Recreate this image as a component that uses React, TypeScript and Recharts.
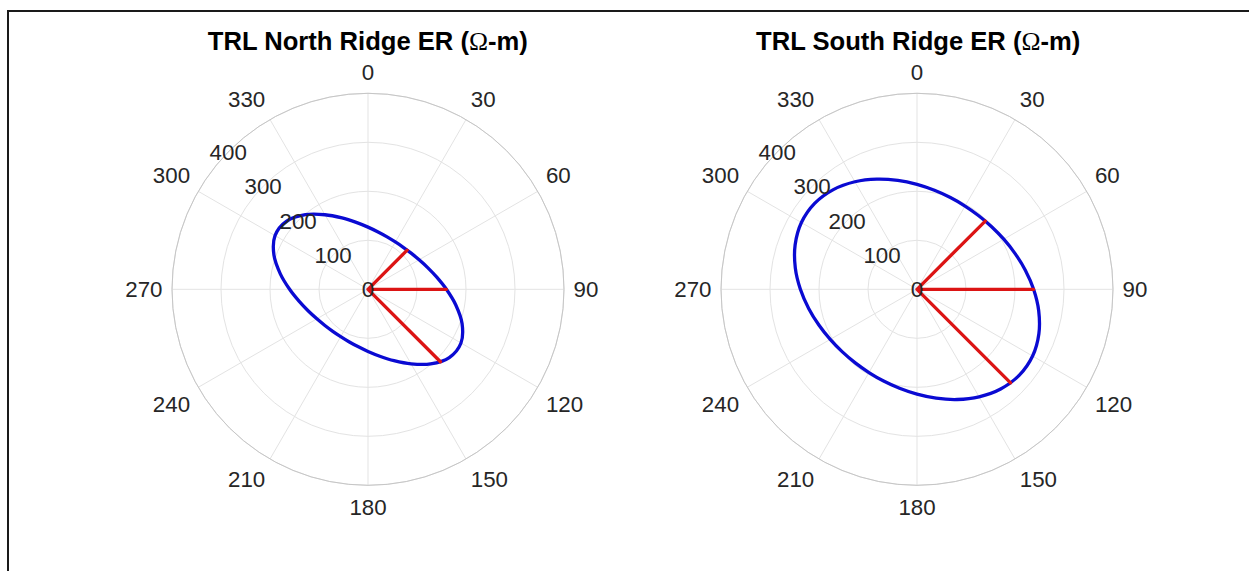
import React from 'react';
import { RadarChart, Radar, PolarGrid, PolarAngleAxis, PolarRadiusAxis } from 'recharts';

// ---- data ----
const thetaTicks = [0, 30, 60, 90, 120, 150, 180, 210, 240, 270, 300, 330];
const rTicks = [0, 100, 200, 300, 400];

// directions of the three measurements (degrees, clockwise from north)
const spokeDirs = [45, 90, 135];
const northER = [113, 160, 209];
const southER = [197, 238, 270];

// resistivity ellipse, radius every 10 degrees (0..350)
const ellipseAngles = [
  0, 10, 20, 30, 40, 50, 60, 70, 80, 90, 100, 110, 120, 130, 140, 150, 160, 170,
  180, 190, 200, 210, 220, 230, 240, 250, 260, 270, 280, 290, 300, 310, 320, 330, 340, 350,
];
const northEllipse = [
  126.9, 118.7, 113.8, 111.5, 111.9, 114.8, 120.5, 129.6, 142.5, 160.0, 181.7, 204.3, 219.1, 216.6, 198.7, 175.7, 155.0, 138.7,
  126.9, 118.7, 113.8, 111.5, 111.9, 114.8, 120.5, 129.6, 142.5, 160.0, 181.7, 204.3, 219.1, 216.6, 198.7, 175.7, 155.0, 138.7,
];
const southEllipse = [
  214.0, 205.1, 199.2, 196.1, 196.0, 198.8, 204.5, 213.1, 224.5, 238.0, 252.2, 264.7, 272.4, 272.7, 265.6, 253.4, 239.3, 225.6,
  214.0, 205.1, 199.2, 196.1, 196.0, 198.8, 204.5, 213.1, 224.5, 238.0, 252.2, 264.7, 272.4, 272.7, 265.6, 253.4, 239.3, 225.6,
];

const titles = ['TRL North Ridge ER', 'TRL South Ridge ER'];

// ---- styles ----
const FONT = '"Liberation Sans", Arial, Helvetica, sans-serif';
const TICK_FS = 22.3;
const HALF_CAP = 8;
const TICK_COLOR = '#262626';
const BLUE = '#0a0ad2';
const RED = '#dc1414';

type Row = { angle: number; ellipse: number | null; spoke: number | null };

function buildData(ellipse: number[], er: number[]): Row[] {
  const rows: Row[] = ellipseAngles.map((a, i) => ({ angle: a, ellipse: ellipse[i], spoke: null }));
  spokeDirs.forEach((d, i) => {
    rows.push({ angle: d, ellipse: null, spoke: 0 });
    rows.push({ angle: d, ellipse: null, spoke: er[i] });
  });
  return rows;
}

const validPts = (points: any[], key: string) =>
  (points || []).filter(
    (p) => p && p.payload && p.payload[key] != null && Number.isFinite(p.x) && Number.isFinite(p.y),
  );

// smooth closed curve through the library-computed points (Catmull-Rom)
const EllipseShape = (props: any) => {
  const pts = validPts(props.points, 'ellipse');
  const n = pts.length;
  if (n < 3) return null;
  let d = `M${pts[0].x},${pts[0].y}`;
  for (let i = 0; i < n; i++) {
    const p0 = pts[(i - 1 + n) % n];
    const p1 = pts[i];
    const p2 = pts[(i + 1) % n];
    const p3 = pts[(i + 2) % n];
    const c1x = p1.x + (p2.x - p0.x) / 6;
    const c1y = p1.y + (p2.y - p0.y) / 6;
    const c2x = p2.x - (p3.x - p1.x) / 6;
    const c2y = p2.y - (p3.y - p1.y) / 6;
    d += `C${c1x},${c1y} ${c2x},${c2y} ${p2.x},${p2.y}`;
  }
  d += 'Z';
  return <path d={d} fill="none" stroke={BLUE} strokeWidth={3.3} />;
};

const SpokeShape = (props: any) => {
  const pts = validPts(props.points, 'spoke');
  if (pts.length < 2) return null;
  let d = '';
  for (let i = 0; i + 1 < pts.length; i += 2) {
    d += `M${pts[i].x},${pts[i].y}L${pts[i + 1].x},${pts[i + 1].y}`;
  }
  return <path d={d} fill="none" stroke={RED} strokeWidth={3.3} strokeLinecap="round" />;
};

const AngleTick = (props: any) => {
  const { x, y, payload } = props;
  const a = (payload.coordinate * Math.PI) / 180;
  const c = Math.cos(a);
  const s = Math.sin(a);
  const anchor = c > 1e-5 ? 'start' : c < -1e-5 ? 'end' : 'middle';
  const by = s > 1e-5 ? y - 12 + HALF_CAP : s < -1e-5 ? y + 12 + HALF_CAP : y + HALF_CAP;
  return (
    <text x={x} y={by} textAnchor={anchor} fontSize={TICK_FS} fontFamily={FONT} fill={TICK_COLOR}>
      {payload.value}
    </text>
  );
};

const RadiusTick = (props: any) => {
  const { x, y, payload } = props;
  return (
    <text x={x} y={y + HALF_CAP} textAnchor="middle" fontSize={TICK_FS} fontFamily={FONT} fill={TICK_COLOR}>
      {payload.value}
    </text>
  );
};

const CX = 275;
const CY = 289.3;
const R = 196;

function PolarPanel({ data, left }: { data: Row[]; left: number }) {
  return (
    <div style={{ position: 'absolute', left, top: 0 }}>
      <RadarChart
        width={550}
        height={571}
        data={data}
        cx={CX}
        cy={CY}
        outerRadius={R}
        startAngle={90}
        endAngle={-270}
        margin={{ top: 0, right: 0, bottom: 0, left: 0 }}
      >
        <PolarGrid gridType="circle" stroke="#e3e3e3" strokeWidth={1} />
        <PolarAngleAxis
          dataKey="angle"
          type="number"
          domain={[0, 360]}
          ticks={thetaTicks}
          axisLineType="circle"
          axisLine={{ stroke: '#c6c6c6', strokeWidth: 1 }}
          tickLine={false}
          tickSize={9.5}
          tick={<AngleTick />}
        />
        <PolarRadiusAxis
          angle={135.5}
          type="number"
          domain={[0, 400]}
          ticks={rTicks}
          axisLine={false}
          tickLine={false}
          tick={<RadiusTick />}
        />
        <Radar dataKey="ellipse" shape={EllipseShape} fill="none" stroke={BLUE} isAnimationActive={false} />
        <Radar dataKey="spoke" shape={SpokeShape} fill="none" stroke={RED} isAnimationActive={false} />
      </RadarChart>
    </div>
  );
}

export default function App() {
  const northData = buildData(northEllipse, northER);
  const southData = buildData(southEllipse, southER);
  return (
    <div
      style={{
        position: 'fixed',
        left: 0,
        top: 0,
        width: 1249,
        height: 571,
        overflow: 'hidden',
        background: '#ffffff',
      }}
    >
      <PolarPanel data={northData} left={367.5 - CX} />
      <PolarPanel data={southData} left={917.3 - CX} />
      <svg width={1249} height={571} style={{ position: 'absolute', left: 0, top: 0, pointerEvents: 'none' }}>
        <path d="M8,571 L8,11 L1249,11" fill="none" stroke="#1a1a1a" strokeWidth={2} />
        {[367.8, 918.2].map((x, i) => (
          <text key={i} x={x} y={50} textAnchor="middle" fontFamily={FONT} fontWeight="bold" fontSize={25.6} fill="#000">
            {titles[i]} (
            <tspan fontFamily={'"Liberation Serif", "DejaVu Serif", serif'} fontWeight="normal">Ω</tspan>
            -m)
          </text>
        ))}
      </svg>
    </div>
  );
}
